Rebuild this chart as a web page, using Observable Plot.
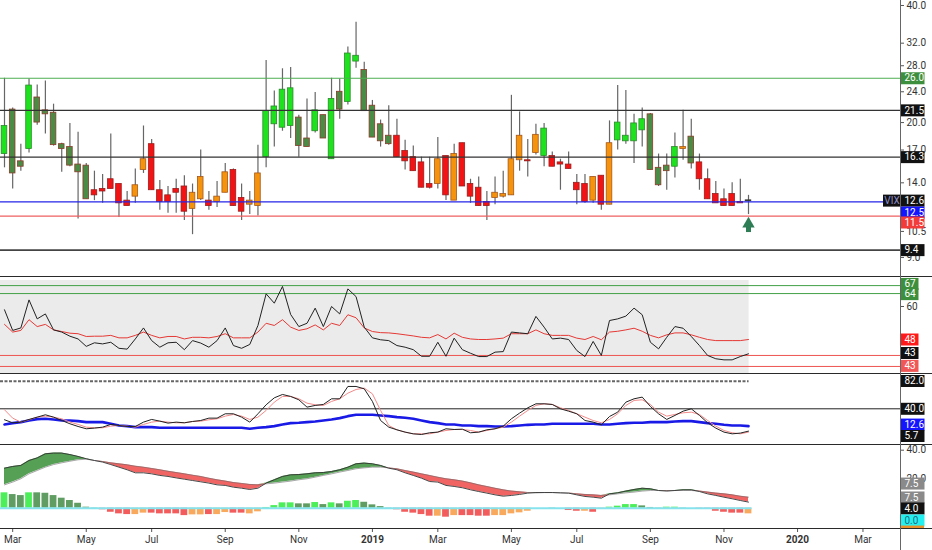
<!DOCTYPE html>
<html><head><meta charset="utf-8">
<script src="https://cdn.jsdelivr.net/npm/d3@7"></script>
<script src="https://cdn.jsdelivr.net/npm/@observablehq/plot@0.6"></script>
<style>
body{margin:0;background:#fff;}
#wrap{position:relative;width:932px;height:550px;overflow:hidden;background:#fff;}
.pane{position:absolute;left:0;}
.sep{position:absolute;left:0;width:932px;height:0;border-top:1.5px solid #2a2a2a;}
.vax{position:absolute;left:900px;top:0;width:0;height:550px;border-left:1px solid #666;}
</style></head><body><div id="wrap"></div>
<script>
// ---------- DATA (weekly VIX candles, Feb 26 2018 .. Nov 25 2019) ----------
const firstWeek = "2018-02-26";
const open  = [16.6,21.6,15.9,17.1,23.2,21.5,21.2,17.6,17.3,15.6, 15.5,13.4,13.5,14.3,13.9,12.6,12.9,15.1,17.6,13.4,
               13.0,13.5,13.7,12.0,12.7,12.6,12.5,13.2,15.1,12.8, 12.3,12.2,16.3,19.8,19.4,19.6,20.6,18.2,19.0,20.9,
               16.1,24.0,22.6,28.7,27.3,22.1,19.8,18.5,18.5,16.9, 16.3,15.8,13.9,13.9,16.4,12.6,17.7,13.9,13.6,12.5,
               12.8,12.9,13.0,16.0,16.0,16.7,16.4,16.4,15.8,15.6, 14.0,13.9,12.6,14.6,12.3,18.0,17.9,17.9,19.1,21.0,
               15.3,15.5,15.4,17.1,18.4,15.8,14.3,13.1,12.7,13.1, 12.5,12.55];
const high  = [26.0,21.8,17.6,25.9,25.0,25.6,22.3,17.7,19.9,18.9, 15.7,15.0,14.7,18.7,13.9,13.3,15.2,19.6,18.1,14.2,
               13.7,14.3,14.6,13.9,17.0,13.3,14.1,15.7,15.2,13.9, 13.3,17.5,28.9,24.1,27.5,27.7,20.9,23.0,23.9,20.9,
               26.0,25.9,31.3,36.2,28.6,22.8,20.3,22.1,20.4,18.0, 17.4,16.3,16.3,18.3,16.4,17.6,17.7,14.3,14.5,13.3,
               14.5,15.0,23.5,21.3,18.1,19.8,19.9,16.8,16.1,16.8, 14.7,14.7,14.5,14.6,20.2,24.9,24.2,21.0,21.8,21.1,
               16.6,16.6,18.8,21.5,20.4,16.6,15.2,14.1,13.5,14.0, 14.3,13.0];
const low   = [15.3,13.5,15.0,16.7,19.7,18.7,17.4,14.9,15.4,11.3, 12.7,12.6,12.4,13.5,11.4,12.2,12.4,14.8,13.4,11.9,
               11.7,11.7,11.2,10.3,12.6,11.9,12.1,13.2,12.2,11.2, 11.6,11.5,15.3,17.3,19.0,18.2,16.3,17.3,18.8,18.2,
               16.1,20.4,22.2,27.6,21.4,18.3,17.3,17.5,16.3,15.1, 15.0,13.6,13.5,13.5,12.6,12.6,13.7,12.4,12.2,11.2,
               12.3,12.8,13.0,15.0,14.5,16.5,15.4,15.4,13.4,15.2, 12.3,12.4,12.4,11.9,12.3,17.0,17.6,15.7,17.3,15.1,
               13.7,13.4,14.4,16.0,15.2,13.4,12.7,12.4,12.2,12.2, 12.4,11.6];
const close = [19.6,14.8,15.4,24.9,20.0,21.0,17.5,17.1,15.5,14.9, 12.7,13.0,13.3,13.5,12.4,12.2,13.8,16.1,13.4,12.5,
               12.5,13.2,11.8,13.2,14.5,12.2,12.9,14.9,12.2,11.8, 12.6,14.8,21.4,22.0,24.3,24.5,17.4,17.3,21.5,18.2,
               23.0,21.6,30.1,29.7,21.4,18.3,17.9,17.6,16.3,15.9, 15.0,13.6,13.6,16.1,13.0,16.6,13.7,12.9,12.2,12.2,
               13.2,13.1,16.1,18.5,15.9,18.6,19.3,15.4,15.6,15.2, 13.4,12.5,14.5,12.3,17.7,20.0,18.5,19.9,20.4,15.1,
               13.8,15.0,17.3,17.3,15.7,14.3,12.7,12.4,12.2,12.2, 12.4,12.62];
// G bright green, D dark green, R red, O orange, X doji
const candleKind = "GDDGDDDDDD"+"DRRRRROORR"+"RRROOROORR"+"OOGGGGDDGD"+"GDGGDDDDRR"+"RRRORORRRR"+"OOOOROGRRR"+"RROROGGGGD"+"DDGODRRRRR"+"RX";

// RSI pane
const rsi   = [58.8,51.3,52.2,62.4,55.5,57.3,51.5,50.7,49.2,48.2, 45.5,46.8,46.4,47.0,44.8,44.5,48.2,52.2,47.6,45.2,
               46.8,47.0,44.3,47.6,46.7,45.2,47.6,52.2,45.8,44.8, 46.2,53.1,64.6,61.2,67.3,57.1,52.7,53.9,59.4,52.7,
               60.0,57.3,66.4,63.6,52.5,48.6,47.9,47.6,45.8,45.2, 44.3,41.9,41.9,47.0,41.9,48.5,44.3,43.0,41.8,41.8,
               43.4,43.6,50.7,50.4,50.1,56.4,52.5,48.2,48.5,48.0, 44.0,41.8,47.3,42.2,54.9,55.5,56.5,59.4,57.0,47.0,
               44.6,48.8,52.7,52.1,49.1,45.8,42.2,41.0,40.6,40.6, 41.8,42.8];
const rsiMa = [53.5,50.7,51.3,55.2,52.7,53.5,51.5,50.9,50.3,50.1, 49.1,49.2,49.2,49.5,48.6,48.6,49.5,50.7,49.5,48.6,
               49.1,49.1,48.2,48.8,48.8,48.6,49.1,50.1,48.6,48.6, 48.6,50.7,53.9,53.1,55.2,52.5,51.3,51.9,53.3,51.5,
               53.9,53.1,57.0,55.9,52.2,50.9,50.5,50.4,50.1,49.7, 49.3,48.8,48.6,49.8,48.2,50.3,48.8,48.2,48.0,48.0,
               48.2,48.5,50.1,50.1,50.1,51.5,50.1,49.5,49.5,49.5, 48.5,48.0,49.1,47.9,50.7,51.0,51.5,52.1,51.0,49.5,
               48.6,49.7,50.4,50.4,49.7,48.8,48.0,47.6,47.6,47.6, 47.6,48.0];
const rsiLevels = [{v:67.6,c:"#43a047"},{v:64.7,c:"#43a047"},{v:42.2,c:"#ef5350"},{v:38.2,c:"#ef5350"}];

// Stochastic pane
const stK   = [23.3,18.7,19.7,23.8,27.3,30.9,27.3,22.2,17.2,13.1, 9.6,10.6,12.1,16.2,14.6,13.1,13.1,19.7,23.8,21.2,
               18.2,19.7,18.7,20.7,22.2,25.8,25.8,32.4,32.4,27.3, 19.7,32.4,46.1,56.7,61.8,58.8,53.7,42.5,45.1,46.6,
               55.2,55.2,74.0,74.0,70.4,51.2,22.2,12.1,8.0,4.5, 1.9,0.9,3.5,4.5,9.6,8.5,9.0,3.5,4.5,8.0,
               9.6,13.6,24.8,33.4,41.5,47.6,47.6,46.6,40.0,36.4, 32.4,22.2,19.7,15.6,28.3,34.9,50.1,55.2,57.8,43.6,
               32.4,23.8,29.9,36.4,40.0,29.9,18.7,10.6,4.5,1.9, 3.0,6.0];
const stD   = [38.5,25.8,19.7,23.3,27.3,28.8,27.3,24.8,19.7,16.2, 12.1,11.1,11.1,13.6,14.6,13.6,12.1,16.2,19.7,21.2,
               19.7,18.7,18.7,20.7,21.2,23.3,24.8,28.8,31.4,28.8, 23.8,27.3,37.5,50.1,58.8,58.8,55.2,48.6,46.1,45.1,
               51.2,55.2,63.8,69.4,71.5,62.8,37.5,14.6,8.0,4.5, 1.9,1.9,1.9,4.5,7.0,8.5,8.5,7.0,4.5,7.0,
               9.6,12.1,19.7,28.8,37.5,45.1,47.6,46.6,41.5,37.5, 32.4,27.3,22.2,18.7,23.8,32.4,45.1,52.7,53.7,46.6,
               34.9,28.8,31.4,33.9,34.9,31.4,22.2,13.6,7.0,3.5, 1.9,4.5];
const stSlow= [16.2,18.2,19.7,22.2,24.3,24.8,23.8,22.2,22.2,21.2, 19.7,19.7,19.7,17.2,14.6,13.6,12.1,12.1,12.1,11.1,
               11.1,11.1,11.1,11.1,11.1,11.1,11.1,11.1,11.1,11.1, 9.6,11.1,12.1,13.6,16.2,18.2,18.7,19.7,20.7,22.2,
               23.8,25.8,28.8,30.9,30.9,30.9,29.9,28.8,27.3,26.3, 24.8,22.2,19.7,18.2,16.2,16.2,14.6,14.6,13.6,13.6,
               13.1,13.1,13.6,14.6,15.6,16.2,16.2,17.2,17.2,17.2, 17.2,17.2,17.2,16.2,16.2,17.2,18.2,18.7,18.7,19.7,
               19.7,19.7,20.7,21.2,21.2,19.7,18.2,17.2,15.6,14.6, 14.6,13.6];

// MACD pane
const macdFast = [27.6,28.8,29.5,32.9,34.7,37.5,38.0,38.0,37.0,35.7, 34.1,32.9,31.8,30.1,28.3,26.5,24.4,24.4,23.7,22.6,
               21.9,20.9,20.0,19.1,18.2,17.3,16.1,15.7,14.5,13.8, 12.9,13.8,17.3,19.6,21.9,23.0,23.2,23.7,24.4,24.6,
               25.3,26.5,28.3,30.6,31.1,30.6,29.5,27.6,26.5,24.4, 22.6,20.7,18.4,18.0,15.7,15.0,14.1,12.7,11.5,10.4,
               9.2,8.3,8.8,9.5,10.4,10.8,10.8,10.8,10.6,10.4, 9.2,8.1,7.6,6.9,9.9,10.6,11.8,12.9,13.8,13.4,
               12.2,11.8,12.2,12.7,12.7,11.5,9.9,8.8,7.6,6.5, 5.3,4.2];
const macdSlow = [16.1,18.0,20.3,23.7,26.0,28.3,30.1,31.3,32.4,33.4, 33.8,32.9,32.2,31.3,30.6,29.9,29.0,28.3,27.4,26.5,
               25.5,24.6,23.7,22.8,21.9,20.7,19.6,18.7,17.7,17.1, 16.4,16.1,16.8,17.3,18.0,18.7,19.6,20.3,21.4,22.6,
               23.7,24.9,26.0,27.2,27.8,28.3,28.3,27.8,27.2,26.0, 24.9,23.7,22.6,21.4,20.3,19.6,18.7,17.5,16.1,15.0,
               13.8,12.7,11.8,11.3,10.8,10.6,10.8,10.8,10.6,10.4, 9.9,9.5,9.2,8.8,9.2,9.9,10.6,11.1,11.8,12.2,
               12.2,12.2,12.2,12.2,12.2,11.8,11.1,10.4,9.9,9.2, 8.3,7.6];
const hist = [10.6,9.4,8.7,10.6,10.6,10.3,8.7,6.9,5.3,3.4, 0.7,0.2,-1.1,-2.8,-3.9,-4.4,-4.4,-3.4,-3.4,-3.9,
              -3.9,-3.9,-5.1,-4.6,-4.6,-4.4,-4.4,-3.0,-3.4,-3.4, -3.9,-2.5,0.5,1.8,3.7,3.7,3.0,3.0,3.9,2.5,
              3.7,3.0,4.8,5.3,4.1,2.3,1.1,0.2,-1.1,-2.8, -3.4,-4.4,-5.5,-5.5,-6.2,-5.1,-5.1,-5.1,-5.5,-5.5,
              -5.1,-5.1,-3.9,-3.2,-2.1,0,0,0.2,0,-1.6, -2.1,-2.1,-2.8,-0.5,0.7,1.4,2.5,2.5,1.6,0.5,
              0.2,0.7,0.7,0.2,0,-0.5,-0.9,-2.1,-2.8,-3.4, -3.4,-3.9];
const histKind = "GDDGDDDDDD"+"DDRRRROORR"+"RRROOROORR"+"OOGGGGDDGD"+"GDGGDDDDRR"+"RRRORORRRR"+"OOOOODDDDR"+"ROROGGGGDD"+"DGGDDRRRRR"+"RO";

// Axis ticks and labels
const priceTicks = [40,32,28,24,20,17,14,10.5,9];
const monthTicks = ["2018-03-05","2018-05-07","2018-07-02","2018-09-03","2018-11-05","2019-03-04","2019-05-06","2019-07-01","2019-09-02","2019-11-04","2020-03-02"];
const yearTicks = ["2019-01-07","2020-01-06"];
const priceLines = [{v:26.0,c:"#4caf50",w:1},{v:21.5,c:"#333",w:1.3},{v:16.3,c:"#333",w:1.3},{v:12.5,c:"#2424e8",w:1.2},{v:11.5,c:"#ef6060",w:1.2},{v:9.4,c:"#444",w:1.8}];
const priceLabels = [{v:26.0,t:"26.0",bg:"#3d8f3d",fg:"#fff"},{v:21.5,t:"21.5",bg:"#111",fg:"#fff"},{v:16.3,t:"16.3",bg:"#111",fg:"#fff"},
  {v:12.6,t:"12.6",bg:"#111",fg:"#fff"},{v:11.74,t:"12.5",bg:"#1414ff",fg:"#fff"},{v:11.07,t:"11.5",bg:"#f23c3c",fg:"#fff"},{v:9.4,t:"9.4",bg:"#111",fg:"#fff"}];
const rsiLabels = [{v:68.2,t:"67",bg:"#3d8f3d",fg:"#fff"},{v:64.5,t:"64",bg:"#3d8f3d",fg:"#fff"},{v:48.0,t:"48",bg:"#ff1a1a",fg:"#fff"},
  {v:43.1,t:"43",bg:"#111",fg:"#fff"},{v:38.4,t:"43",bg:"#f25757",fg:"#fff"}];
const stLabels = [{v:82.3,t:"82.0",bg:"#111",fg:"#fff"},{v:40,t:"40.0",bg:"#111",fg:"#fff"},{v:16.0,t:"12.6",bg:"#1414ff",fg:"#fff"},{v:-1.4,t:"5.7",bg:"#111",fg:"#fff"}];
const macdLabels = [{v:17.0,t:"7.5",bg:"#8a8a8a",fg:"#fff"},{v:7.4,t:"7.5",bg:"#8a8a8a",fg:"#fff"},{v:-0.2,t:"4.0",bg:"#111",fg:"#fff"},{v:-8.5,t:"0.0",bg:"#22f0f0",fg:"#2b6b7a"}];

// ---------- BUILD ----------
const DAY = 864e5;
const t0 = new Date(firstWeek + "T00:00:00Z");
const dates = d3.utcMonday.every(1).range(t0, new Date(+t0 + 92*7*DAY)).slice(0, 92);
const pxPerDay = 744 / ((+dates[91] - +dates[0]) / DAY);
const X0 = new Date(+dates[0] - 4 / pxPerDay * DAY);
const X1 = new Date(+X0 + 900 / pxPerDay * DAY);
const pxDate = px => new Date(+X0 + px / pxPerDay * DAY);
const lastDate = dates[91];
const FONT = "Roboto, 'Liberation Sans', sans-serif";

const CK = {G:["#1fe21f","#2a8a2a"], D:["#4a8c45","#8a3a28"], R:["#f21414","#9a1c1c"], O:["#f5940c","#a5561a"], X:["#333","#333"]};
const HK = {G:"#4cee5a", D:"#5f9d62", R:"#f25c5c", O:"#f8a95e"};

const candles = dates.map((d,i) => ({date:d, open:open[i], high:high[i], low:low[i], close:close[i], k:candleKind[i]}));
const ind = dates.map((d,i) => ({date:d, rsi:rsi[i], rsiMa:rsiMa[i], k:stK[i], dd:stD[i], s:stSlow[i], a:macdFast[i], b:macdSlow[i], h:hist[i], hk:histKind[i]}));

const base = (h, mb=0) => ({
  width: 932, height: h, marginLeft: 0, marginRight: 32, marginTop: 0, marginBottom: mb,
  style: {fontFamily: FONT, fontSize: "10px", color: "#333", background: "transparent", overflow: "visible"},
  x: {type: "utc", domain: [X0, X1], axis: null},
  color: {type: "identity"}
});
function labelMarks(list, w=24) {
  return [
    Plot.ruleY(list, {y: "v", x1: () => pxDate(900.5), x2: () => pxDate(900.5 + w), stroke: "bg", strokeWidth: 12}),
    Plot.text(list, {y: "v", x: () => pxDate(904), text: "t", fill: "fg", fontSize: 10, textAnchor: "start"})
  ];
}
const sh = (d, days) => new Date(+d + days*DAY);

const wrap = document.getElementById("wrap");
function place(svg, top) { const div = document.createElement("div"); div.className = "pane"; div.style.top = top + "px"; div.appendChild(svg); wrap.appendChild(div); }

// Pane 1: price
place(Plot.plot({
  ...base(277),
  y: {type: "log", domain: [7.993, 41.2], axis: null},
  marks: [
    Plot.ruleX(candles, {x: "date", y1: "low", y2: "high", stroke: "#666", strokeWidth: 1.2}),
    Plot.rect(candles, {x1: d => sh(d.date,-2.4), x2: d => sh(d.date,2.4), y1: "open", y2: "close",
      fill: d => CK[d.k][0], stroke: d => CK[d.k][1], strokeWidth: 0.8}),
    ...priceLines.map(l => Plot.ruleY([l.v], {stroke: l.c, strokeWidth: l.w})),
    Plot.ruleX([lastDate], {y1: 10.88, y2: 10.43, stroke: "#2e7d55", strokeWidth: 5}),
    Plot.dot([lastDate], {x: d => d, y: 10.97, symbol: "triangle", r: 4.6, fill: "#2e7d55", stroke: "none"}),
    Plot.axisY({anchor: "right", ticks: priceTicks, tickFormat: d => d.toFixed(1), tickSize: 3, tickPadding: 3, fontSize: 10, stroke: "#555"}),
    ...labelMarks(priceLabels),
    Plot.ruleY([12.6], {x1: () => pxDate(883), x2: () => pxDate(900), stroke: "#111", strokeWidth: 12}),
    Plot.text(["VIX"], {y: 12.6, x: () => pxDate(891.5), text: d => d, fill: "#8c8cc8", fontSize: 10, textAnchor: "middle"})
  ]
}), 0);

// Pane 2: RSI
place(Plot.plot({
  ...base(97),
  y: {domain: [35.273, 70.545], axis: null},
  marks: [
    Plot.rect([0], {x1: () => X0, x2: () => sh(lastDate, 0.5), y1: 35.6, y2: 69.45, fill: "#ebebeb"}),
    ...rsiLevels.map(l => Plot.ruleY([l.v], {stroke: l.c, strokeWidth: 1})),
    Plot.line(ind, {x: "date", y: "rsiMa", stroke: "#e53935", strokeWidth: 1}),
    Plot.line(ind, {x: "date", y: "rsi", stroke: "#222", strokeWidth: 1}),
    Plot.axisY({anchor: "right", ticks: [60], tickFormat: d => d.toFixed(0), tickSize: 3, tickPadding: 3, fontSize: 10, stroke: "#555"}),
    ...labelMarks(rsiLabels, 18)
  ]
}), 277);

// Pane 3: stochastic
place(Plot.plot({
  ...base(71),
  y: {domain: [-15.86, 92.2], axis: null},
  marks: [
    Plot.ruleY([82], {x1: () => X0, x2: () => sh(lastDate, 0.5), stroke: "#666", strokeWidth: 2, strokeDasharray: "3,1.5"}),
    Plot.ruleY([40], {stroke: "#222", strokeWidth: 1}),
    Plot.line(ind, {x: "date", y: "s", stroke: "#1a1ae6", strokeWidth: 2.6}),
    Plot.line(ind, {x: "date", y: "dd", stroke: "#f28a8a", strokeWidth: 1}),
    Plot.line(ind, {x: "date", y: "k", stroke: "#222", strokeWidth: 1}),
    ...labelMarks(stLabels)
  ]
}), 374);

// Pane 4: MACD
place(Plot.plot({
  ...base(105, 21),
  y: {domain: [-14.69, 43.24], axis: null},
  marks: [
    Plot.areaY(ind, {x: "date", y1: "b", y2: d => Math.max(d.a, d.b), fill: "#55a055"}),
    Plot.areaY(ind, {x: "date", y1: d => Math.min(d.a, d.b), y2: "b", fill: "#f06464"}),
    Plot.line(ind, {x: "date", y: "b", stroke: "#6a6a6a", strokeWidth: 0.6}),
    Plot.line(ind, {x: "date", y: "a", stroke: "#333", strokeWidth: 0.9}),
    Plot.rect(ind, {x1: d => sh(d.date,-2.9), x2: d => sh(d.date,2.9), y1: 0, y2: "h", fill: d => HK[d.hk]}),
    Plot.ruleY([0], {x1: () => X0, x2: () => sh(lastDate, 3), stroke: "#86e3ee", strokeWidth: 2}),
    Plot.axisY({anchor: "right", ticks: [40, 20], tickFormat: d => d.toFixed(1), tickSize: 3, tickPadding: 3, fontSize: 10, stroke: "#555"}),
    ...labelMarks(macdLabels),
    Plot.rect([0], {x1: () => pxDate(900.5), x2: () => pxDate(924), y1: -12.3, y2: -14.69, fill: "#e8902a"}),
    Plot.axisX({ticks: monthTicks.map(s => new Date(s + "T00:00:00Z")), tickFormat: d3.utcFormat("%b"), tickSize: 3, tickPadding: 3, fontSize: 10, stroke: "#555"}),
    Plot.axisX({ticks: yearTicks.map(s => new Date(s + "T00:00:00Z")), tickFormat: d3.utcFormat("%Y"), tickSize: 3, tickPadding: 3, fontSize: 10, fontWeight: "bold", stroke: "#555"})
  ]
}), 445);

// separators and right axis line
[277, 374, 445, 529].forEach(y => { const s = document.createElement("div"); s.className = "sep"; s.style.top = (y - 0.75) + "px"; wrap.appendChild(s); });
const v = document.createElement("div"); v.className = "vax"; wrap.appendChild(v);
</script>
</body></html>
